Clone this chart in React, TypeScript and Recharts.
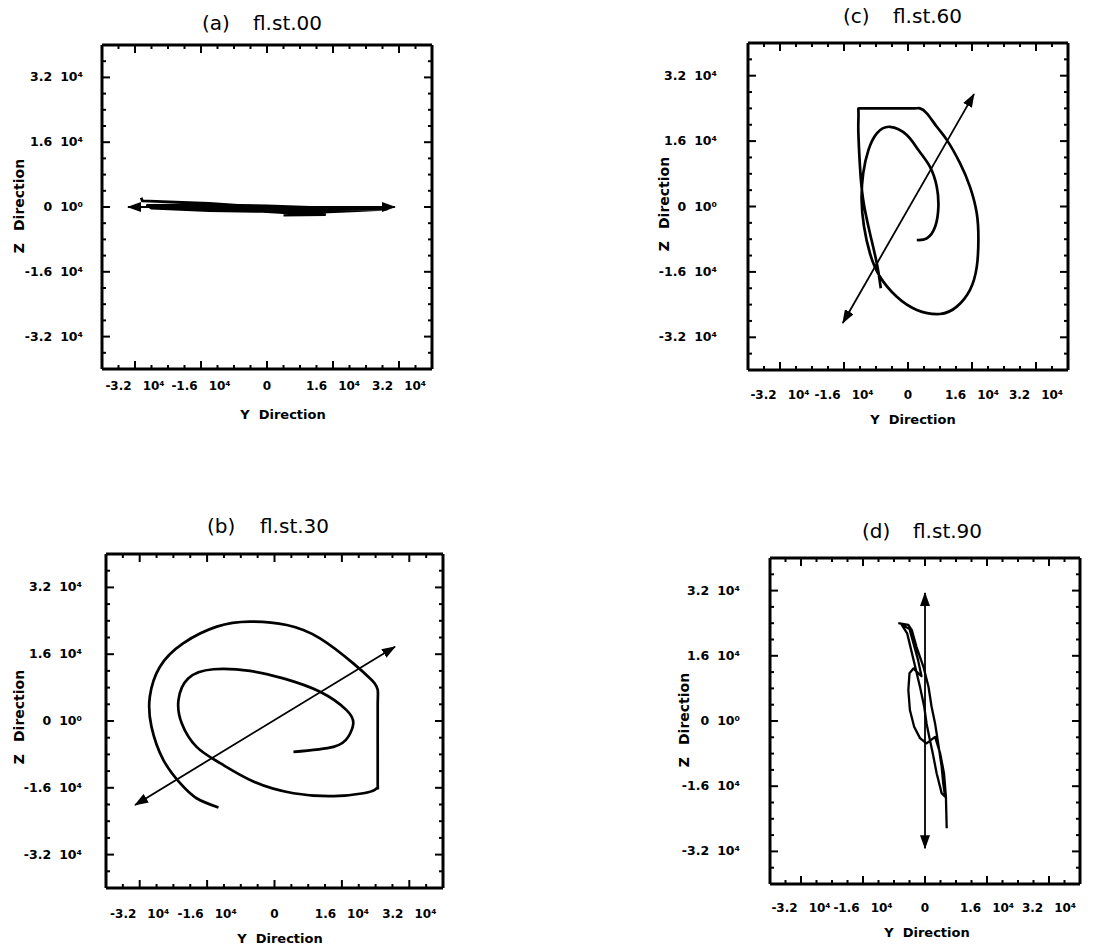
import React from 'react';
import { ScatterChart, Scatter, XAxis, YAxis } from 'recharts';

// tick values shared by all four plots
const axisDomain = [-40000, 40000];
const majorTicks = [-32000, -16000, 0, 16000, 32000];
const allTicks = [
  -36000, -32000, -28000, -24000, -20000, -16000, -12000, -8000, -4000, 0,
  4000, 8000, 12000, 16000, 20000, 24000, 28000, 32000, 36000,
];

// (a) fl.st.00
const curveA = [
  { x: -30500, y: 2300 }, { x: -30200, y: 1500 }, { x: -14000, y: 900 }, { x: 0, y: -100 },
  { x: 16000, y: -600 }, { x: 29000, y: -500 }, { x: 14000, y: -200 }, { x: 0, y: 300 },
  { x: -14000, y: 500 }, { x: -29000, y: 400 }, { x: -28000, y: -300 }, { x: -14000, y: -900 },
  { x: 0, y: -1100 }, { x: 12000, y: -1300 }, { x: 22000, y: -900 }, { x: 28000, y: -600 },
  { x: 16000, y: -900 }, { x: 2000, y: -700 }, { x: -12000, y: -300 }, { x: -24000, y: 100 },
  { x: -10000, y: -500 }, { x: 4000, y: -1400 }, { x: 14000, y: -1900 }, { x: 4000, y: -2000 },
];
const arrowA = [{ x: -33700, y: 0 }, { x: 31000, y: 0 }];

// (b) fl.st.30
const curveB = [
  { x: 4500, y: -7400 }, { x: 14000, y: -6200 }, { x: 17500, y: -3800 }, { x: 18700, y: -600 },
  { x: 17100, y: 2600 }, { x: 10800, y: 7000 }, { x: 2100, y: 10200 }, { x: -5800, y: 12000 },
  { x: -14500, y: 12400 }, { x: -20500, y: 10200 }, { x: -22800, y: 5000 }, { x: -22000, y: -600 },
  { x: -18500, y: -6200 }, { x: -12900, y: -10100 }, { x: -5000, y: -14500 }, { x: 4500, y: -17300 },
  { x: 14000, y: -18000 }, { x: 21100, y: -17300 }, { x: 23800, y: -16500 }, { x: 24500, y: -16000 },
  { x: 24500, y: -15000 }, { x: 24500, y: -6000 }, { x: 24500, y: 4000 }, { x: 24500, y: 7500 },
  { x: 23800, y: 9000 }, { x: 22700, y: 10200 }, { x: 18700, y: 13800 }, { x: 10800, y: 19800 }, { x: 2900, y: 23000 },
  { x: -5800, y: 23800 }, { x: -13700, y: 22600 }, { x: -21700, y: 18600 }, { x: -27200, y: 13000 },
  { x: -29600, y: 5800 }, { x: -29200, y: -1400 }, { x: -26400, y: -9300 }, { x: -22400, y: -14900 },
  { x: -18500, y: -18500 }, { x: -13300, y: -20700 },
];
const arrowB = [{ x: -33100, y: -20100 }, { x: 28600, y: 17800 }];

// (c) fl.st.60
const curveC = [
  { x: 2200, y: -8200 }, { x: 4700, y: -7800 }, { x: 6800, y: -4900 }, { x: 7600, y: 0 },
  { x: 7200, y: 4800 }, { x: 5500, y: 9700 }, { x: 2600, y: 13800 }, { x: -300, y: 17500 },
  { x: -4500, y: 19500 }, { x: -7800, y: 17900 }, { x: -9900, y: 13800 }, { x: -11200, y: 8100 },
  { x: -11600, y: 1600 }, { x: -11000, y: -4900 }, { x: -9500, y: -11500 }, { x: -7000, y: -17200 },
  { x: -2800, y: -22100 }, { x: 2200, y: -25300 }, { x: 8000, y: -26300 }, { x: 12200, y: -24500 },
  { x: 15500, y: -20400 }, { x: 17200, y: -14700 }, { x: 17600, y: -8200 }, { x: 17200, y: -1700 },
  { x: 15500, y: 4800 }, { x: 13000, y: 10600 }, { x: 9700, y: 16300 }, { x: 7200, y: 19500 },
  { x: 4700, y: 22800 }, { x: 3000, y: 24000 }, { x: 1500, y: 24000 }, { x: -3700, y: 24000 },
  { x: -9000, y: 24000 }, { x: -12000, y: 24000 }, { x: -12400, y: 23500 }, { x: -12400, y: 21000 },
  { x: -12400, y: 17900 }, { x: -12000, y: 9700 }, { x: -11200, y: 1600 }, { x: -9500, y: -6600 },
  { x: -7800, y: -13900 }, { x: -6800, y: -20000 },
];
const arrowC = [{ x: -16300, y: -28500 }, { x: 16500, y: 27500 }];

// (d) fl.st.90
const curveD = [
  { x: -6900, y: 24000 }, { x: -4300, y: 23600 }, { x: -3400, y: 22300 }, { x: -2200, y: 18200 },
  { x: -400, y: 13300 }, { x: 900, y: 8400 }, { x: 1700, y: 3500 }, { x: 2600, y: -600 },
  { x: 3400, y: -5500 }, { x: 4300, y: -11200 }, { x: 4700, y: -15300 }, { x: 5200, y: -18600 },
  { x: 4300, y: -17700 }, { x: 3000, y: -12800 }, { x: 2000, y: -7900 }, { x: 1100, y: -3900 },
  { x: 400, y: -600 }, { x: -200, y: 3500 }, { x: -1300, y: 8400 }, { x: -2700, y: 14000 },
  { x: -4600, y: 21500 }, { x: -6000, y: 23600 }, { x: -4000, y: 22600 }, { x: -1800, y: 15000 },
  { x: -900, y: 11000 }, { x: -1700, y: 11700 },
  { x: -3000, y: 12900 }, { x: -4000, y: 11700 }, { x: -4300, y: 7600 }, { x: -3900, y: 2700 },
  { x: -2800, y: -1400 }, { x: -1300, y: -4200 }, { x: 400, y: -5500 }, { x: 1500, y: -4700 },
  { x: 2600, y: -3900 }, { x: 3900, y: -7900 }, { x: 4900, y: -12800 }, { x: 5400, y: -18600 },
  { x: 5600, y: -26300 },
];
const arrowD = [{ x: 0, y: -31200 }, { x: 0, y: 31400 }];

// outer space around each plot box (axes take 1px on each side)
const M = { top: 9, right: 9, bottom: 49, left: 99 };
const FONT = '"DejaVu Sans", sans-serif';

const panels = [
  {
    id: 'a', label: '(a)', name: 'fl.st.00', curve: curveA, arrow: arrowA, width: 2.8, joint: 'linear',
    box: { x: 102, y: 45, w: 330, h: 324 }, xGap: 21, yGap: 19,
    t1: [202, 30], t2: [253, 30], zLab: [19, 206], yLab: [283, 419],
  },
  {
    id: 'b', label: '(b)', name: 'fl.st.30', curve: curveB, arrow: arrowB, width: 2.7, joint: 'natural',
    box: { x: 106, y: 554, w: 337, h: 334 }, xGap: 30, yGap: 24,
    t1: [207, 533], t2: [260, 533], zLab: [19, 717], yLab: [280, 943],
  },
  {
    id: 'c', label: '(c)', name: 'fl.st.60', curve: curveC, arrow: arrowC, width: 2.7, joint: 'natural',
    box: { x: 748, y: 43, w: 320, h: 327 }, xGap: 29, yGap: 31,
    t1: [843, 23], t2: [893, 23], zLab: [664, 204], yLab: [913, 424],
  },
  {
    id: 'd', label: '(d)', name: 'fl.st.90', curve: curveD, arrow: arrowD, width: 2.3, joint: 'linear',
    box: { x: 770, y: 558, w: 310, h: 326 }, xGap: 28, yGap: 30,
    t1: [862, 538], t2: [913, 538], zLab: [684, 720], yLab: [927, 937],
  },
];

const mant = (v: number) => (v / 10000).toFixed(1);

function BoxTick(props: any) {
  const { x, y, payload, side, gap } = props;
  const v = payload.value;
  const major = majorTicks.includes(v);
  const len = major ? 8 : 4;
  let line = null;
  if (side === 'bottom') line = <line x1={x} y1={y} x2={x} y2={y - len} />;
  if (side === 'top') line = <line x1={x} y1={y} x2={x} y2={y + len} />;
  if (side === 'left') line = <line x1={x} y1={y} x2={x + len} y2={y} />;
  if (side === 'right') line = <line x1={x} y1={y} x2={x - len} y2={y} />;

  let text = null;
  if (major && side === 'bottom') {
    text = (
      <text x={x} y={y + gap} textAnchor="middle" fontFamily={FONT} fontWeight="bold" fontSize={12} fill="#000">
        {v === 0 ? '0' : <><tspan>{mant(v)}</tspan><tspan dx={11}>10⁴</tspan></>}
      </text>
    );
  }
  if (major && side === 'left') {
    text = (
      <text x={x - gap} y={y + 4} textAnchor="end" fontFamily={FONT} fontWeight="bold" fontSize={12.5} fill="#000">
        <tspan>{v === 0 ? '0' : mant(v)}</tspan>
        <tspan dx={8}>{v === 0 ? '10⁰' : '10⁴'}</tspan>
      </text>
    );
  }
  return (
    <g stroke="#000" strokeWidth={2}>
      {line}
      {text && <g stroke="none">{text}</g>}
    </g>
  );
}

const axisLine = { stroke: '#000', strokeWidth: 3 };
const noShape = () => <g />;

function Panel({ p }: { p: any }) {
  const w = p.box.w + M.left + M.right + 2;
  const h = p.box.h + M.top + M.bottom + 2;
  const head = `head-${p.id}`;
  const common = {
    type: 'number' as const, domain: axisDomain, ticks: allTicks, interval: 0 as const,
    tickSize: 0, tickMargin: 0, tickLine: false, axisLine, allowDataOverflow: true,
  };
  return (
    <div style={{ position: 'absolute', left: p.box.x - M.left - 1, top: p.box.y - M.top - 1 }}>
      <ScatterChart width={w} height={h} margin={M}>
        <defs>
          <marker id={head} viewBox="0 0 14 10" refX="13" refY="5" markerWidth="14" markerHeight="10"
            markerUnits="userSpaceOnUse" orient="auto-start-reverse">
            <path d="M0,0 L14,5 L0,10 z" fill="#000" />
          </marker>
        </defs>
        <XAxis {...common} xAxisId="bottom" dataKey="x" height={1} tick={(t: any) => <BoxTick {...t} side="bottom" gap={p.xGap} />} />
        <XAxis {...common} xAxisId="top" orientation="top" dataKey="x" height={1} tick={(t: any) => <BoxTick {...t} side="top" />} />
        <YAxis {...common} yAxisId="left" dataKey="y" width={1} tick={(t: any) => <BoxTick {...t} side="left" gap={p.yGap} />} />
        <YAxis {...common} yAxisId="right" orientation="right" dataKey="y" width={1} tick={(t: any) => <BoxTick {...t} side="right" />} />
        <Scatter xAxisId="bottom" yAxisId="left" data={p.curve} fill="#000" shape={noShape}
          line={{ stroke: '#000', strokeWidth: p.width, strokeLinejoin: 'round' }} lineJointType={p.joint}
          isAnimationActive={false} />
        <Scatter xAxisId="bottom" yAxisId="left" data={p.arrow} fill="#000" shape={noShape}
          line={{ stroke: '#000', strokeWidth: 1.8, markerStart: `url(#${head})`, markerEnd: `url(#${head})` }}
          isAnimationActive={false} />
      </ScatterChart>
    </div>
  );
}

export default function App() {
  return (
    <div style={{ position: 'absolute', left: 0, top: 0, width: 1107, height: 949, background: '#fff' }}>
      {panels.map((p) => <Panel key={p.id} p={p} />)}
      <svg width={1107} height={949} style={{ position: 'absolute', left: 0, top: 0, pointerEvents: 'none' }}>
        {panels.map((p) => (
          <g key={p.id} fill="#000">
            <text x={p.t1[0]} y={p.t1[1]} fontFamily={FONT} fontSize={20}>{p.label}</text>
            <text x={p.t2[0]} y={p.t2[1]} fontFamily={FONT} fontSize={20}>{p.name}</text>
            <text x={p.yLab[0]} y={p.yLab[1]} textAnchor="middle" fontFamily={FONT} fontWeight="bold" fontSize={13}>
              Y<tspan dx={9}>Direction</tspan>
            </text>
            <text x={p.zLab[0]} y={p.zLab[1]} textAnchor="middle" dominantBaseline="central"
              transform={`rotate(-90 ${p.zLab[0]} ${p.zLab[1]})`} fontFamily={FONT} fontWeight="bold" fontSize={14}>
              Z<tspan dx={12}>Direction</tspan>
            </text>
          </g>
        ))}
      </svg>
    </div>
  );
}
